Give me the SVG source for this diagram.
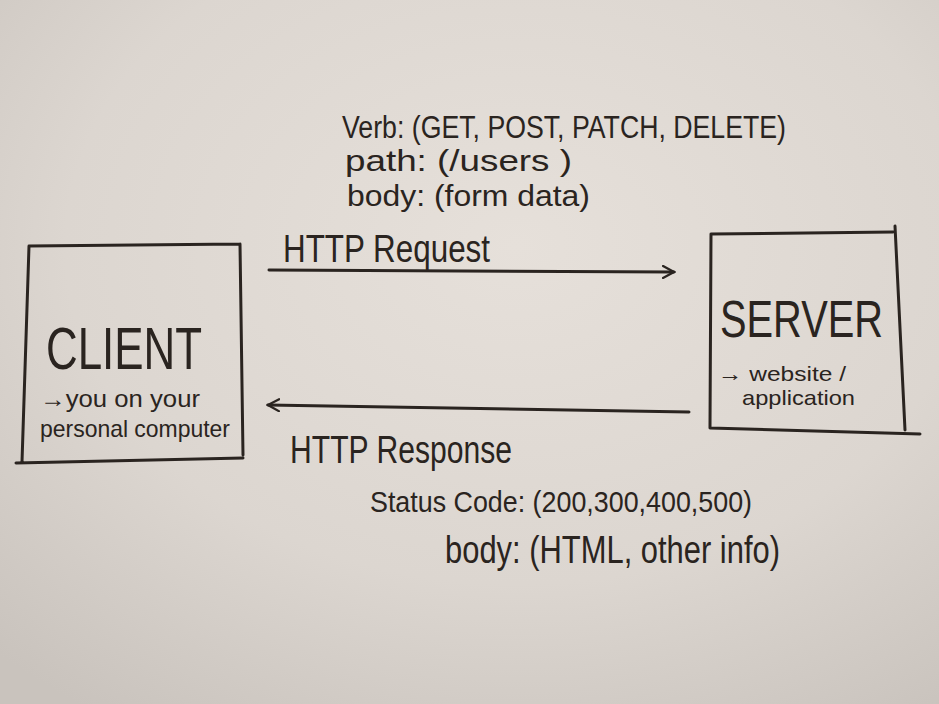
<svg xmlns="http://www.w3.org/2000/svg" width="939" height="704" viewBox="0 0 939 704">
<defs>
<radialGradient id="bg" cx="0.55" cy="0.35" r="0.8">
<stop offset="0" stop-color="#e6e0da"/>
<stop offset="0.6" stop-color="#dcd6d0"/>
<stop offset="1" stop-color="#c9c3bd"/>
</radialGradient>
<marker id="ah" viewBox="0 0 14 14" refX="12" refY="7" markerWidth="14" markerHeight="14" markerUnits="userSpaceOnUse" orient="auto">
<path d="M1,1 L12,7 L1,13" fill="none" stroke="#2a2420" stroke-width="2.2" stroke-linecap="round"/>
</marker>
<style>
.ink{fill:none;stroke:#2a2420;stroke-width:3;stroke-linecap:round;stroke-linejoin:round}
.t{font-family:"Liberation Sans","DejaVu Sans",sans-serif;fill:#2a2420}
</style>
</defs>
<rect width="939" height="704" fill="url(#bg)"/>
<g id="client">
<path class="ink" d="M29,246 L240,244 M29,246 L22,462 M240,244 L243,455 M16,463 L243,458"/>
<text class="t" x="46" y="369" font-size="60" textLength="156" lengthAdjust="spacingAndGlyphs">CLIENT</text>
<text class="t" x="40" y="407" font-size="24" textLength="160" lengthAdjust="spacingAndGlyphs">→you on your</text>
<text class="t" x="40" y="437" font-size="24" textLength="190" lengthAdjust="spacingAndGlyphs">personal computer</text>
</g>
<g id="server">
<path class="ink" d="M711,234 L893,232 M711,234 L710,428 M895,226 L905,430 M710,428 L920,434"/>
<text class="t" x="720" y="337" font-size="51" textLength="163" lengthAdjust="spacingAndGlyphs">SERVER</text>
<text class="t" x="718" y="381" font-size="21" textLength="128" lengthAdjust="spacingAndGlyphs">→ website /</text>
<text class="t" x="742" y="405" font-size="21" textLength="113" lengthAdjust="spacingAndGlyphs">application</text>
</g>
<g id="connectors">
<path class="ink" d="M269,270 L674,272" marker-end="url(#ah)"/>
<path class="ink" d="M689,412 L268,405" marker-end="url(#ah)"/>
</g>
<g id="request-label">
<text class="t" x="283" y="262" font-size="38" textLength="207" lengthAdjust="spacingAndGlyphs">HTTP Request</text>
<text class="t" x="342" y="138" font-size="31" textLength="444" lengthAdjust="spacingAndGlyphs">Verb: (GET, POST, PATCH, DELETE)</text>
<text class="t" x="345" y="171" font-size="30" textLength="227" lengthAdjust="spacingAndGlyphs">path: (/users  )</text>
<text class="t" x="347" y="206" font-size="30" textLength="243" lengthAdjust="spacingAndGlyphs">body: (form data)</text>
</g>
<g id="response-label">
<text class="t" x="290" y="463" font-size="38" textLength="222" lengthAdjust="spacingAndGlyphs">HTTP Response</text>
<text class="t" x="370" y="512" font-size="30" textLength="382" lengthAdjust="spacingAndGlyphs">Status Code: (200,300,400,500)</text>
<text class="t" x="445" y="563" font-size="38" textLength="335" lengthAdjust="spacingAndGlyphs">body: (HTML, other info)</text>
</g>
</svg>
